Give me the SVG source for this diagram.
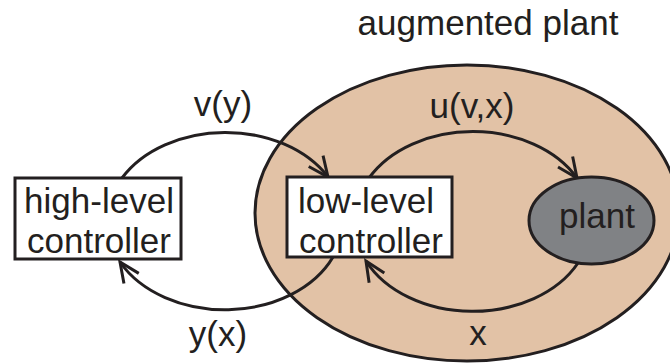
<svg xmlns="http://www.w3.org/2000/svg" width="670" height="364" viewBox="0 0 670 364">
<defs>
<style>
text{font-family:"Liberation Sans",Arial,sans-serif;font-size:35px;fill:#231f20;text-anchor:middle}
.box{fill:#fff;stroke:#231f20;stroke-width:3}
.arc{fill:none;stroke:#231f20;stroke-width:3;marker-end:url(#arr)}
</style>
<marker id="arr" viewBox="-24 -12 28 24" markerWidth="28" markerHeight="24" refX="0" refY="0" orient="auto" markerUnits="userSpaceOnUse" overflow="visible">
<path d="M-20,-9 L0,0 L-20,9" fill="none" stroke="#231f20" stroke-width="3"/>
</marker>
</defs>
<rect width="670" height="364" fill="#fff"/>
<g id="augmented-plant">
<ellipse cx="467" cy="213" rx="212" ry="148" fill="#e2c2a6" stroke="#231f20" stroke-width="3"/>
<text x="488" y="35">augmented plant</text>
</g>
<g id="connectors">
<path class="arc" d="M122,178 A118,88 0 0 1 328,177"/>
<path class="arc" d="M333,257 A118,88 0 0 1 120,262"/>
<path class="arc" d="M369,178 A118,88 0 0 1 577,178"/>
<path class="arc" d="M578,263 A118,88 0 0 1 366,261"/>
<text x="223" y="116">v(y)</text>
<text x="218" y="346">y(x)</text>
<text x="472" y="118">u(v,x)</text>
<text x="478" y="345">x</text>
</g>
<g id="high-level-controller">
<rect class="box" x="15" y="178" width="166" height="81"/>
<text x="99" y="213">high-level</text>
<text x="99" y="253">controller</text>
</g>
<g id="low-level-controller">
<rect class="box" x="287" y="177" width="165" height="80"/>
<text x="366" y="213">low-level</text>
<text x="371" y="253">controller</text>
</g>
<g id="plant">
<ellipse cx="591.5" cy="220.5" rx="62.5" ry="43.5" fill="#808285" stroke="#231f20" stroke-width="3"/>
<text x="597" y="228">plant</text>
</g>
</svg>
